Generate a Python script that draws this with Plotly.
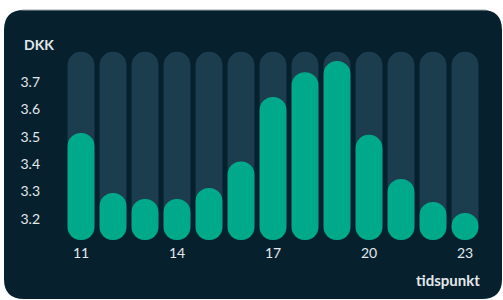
import plotly.graph_objects as go

hours = [11, 12, 13, 14, 15, 16, 17, 18, 19, 20, 21, 22, 23]
price = [3.514, 3.295, 3.273, 3.273, 3.313, 3.41, 3.645, 3.736, 3.777, 3.507, 3.346, 3.262, 3.222]
y_ticks = [3.2, 3.3, 3.4, 3.5, 3.6, 3.7]
x_ticks = [11, 14, 17, 20, 23]

BASE = 3.123
TRACK_TOP = 3.81

W, H = 503, 300
L, R, T, B = 65, 22, 45, 58
PW, PH = W - L - R, H - T - B
Y0, Y1 = 3.116, 3.835
X0, X1 = 10.5, 23.5
BAR_W = 0.84

CARD = "#06202e"
TRACK = "#1c3d4d"
GREEN = "#00a98a"
TEXT = "#e3e8eb"
FONT = "Lato"


def px(x):
    return (x - L) / PW


def py(y):
    return (H - B - y) / PH


def rounded_rect(x0, y0, x1, y1, r):
    pts = [
        f"M {px(x0 + r)} {py(y0)}",
        f"L {px(x1 - r)} {py(y0)}",
        f"Q {px(x1)} {py(y0)} {px(x1)} {py(y0 + r)}",
        f"L {px(x1)} {py(y1 - r)}",
        f"Q {px(x1)} {py(y1)} {px(x1 - r)} {py(y1)}",
        f"L {px(x0 + r)} {py(y1)}",
        f"Q {px(x0)} {py(y1)} {px(x0)} {py(y1 - r)}",
        f"L {px(x0)} {py(y0 + r)}",
        f"Q {px(x0)} {py(y0)} {px(x0 + r)} {py(y0)}",
        "Z",
    ]
    return " ".join(pts)


fig = go.Figure()


def pill(top, color):
    fig.add_trace(go.Bar(
        x=hours, base=[BASE] * len(hours), y=[t - BASE for t in top],
        width=BAR_W, marker=dict(color=color, cornerradius="50%", line=dict(width=0)),
        hoverinfo="skip", showlegend=False))


pill([TRACK_TOP] * len(hours), TRACK)
pill(price, GREEN)

fig.update_layout(
    width=W, height=H,
    margin=dict(l=L, r=R, t=T, b=B),
    paper_bgcolor="white",
    plot_bgcolor="rgba(0,0,0,0)",
    barmode="overlay",
    font=dict(family=FONT, color=TEXT, size=14),
    xaxis=dict(range=[X0, X1], tickvals=x_ticks, ticktext=[str(v) for v in x_ticks],
               showgrid=False, zeroline=False, showline=False, ticks="",
               ticklabelstandoff=1, tickfont=dict(size=14, color=TEXT), fixedrange=True),
    yaxis=dict(range=[Y0, Y1], tickvals=y_ticks, ticktext=[f"{v:.1f}" for v in y_ticks],
               showgrid=False, zeroline=False, showline=False, ticks="",
               ticklabelstandoff=24, tickfont=dict(size=14, color=TEXT), fixedrange=True),
    shapes=[
        dict(type="path", xref="paper", yref="paper",
             path=rounded_rect(4, 10, 502, 299, 20),
             fillcolor=CARD, line=dict(width=0), layer="below"),
        dict(type="line", xref="paper", yref="paper",
             x0=px(22), x1=px(486), y0=py(10), y1=py(10),
             line=dict(color="#9aa3a8", width=1), layer="below"),
    ],
    annotations=[
        dict(text="<b>DKK</b>", xref="paper", yref="paper", x=px(22), y=py(44),
             xanchor="left", yanchor="middle", showarrow=False,
             font=dict(size=14, color=TEXT, family=FONT)),
        dict(text="<b>tidspunkt</b>", xref="paper", yref="paper", x=px(482), y=py(280),
             xanchor="right", yanchor="middle", showarrow=False,
             font=dict(size=15, color=TEXT, family=FONT)),
    ],
)

fig.write_html("out.html", config={"displayModeBar": False},
               post_script="document.body.style.margin='0';document.body.style.overflow='hidden';")
